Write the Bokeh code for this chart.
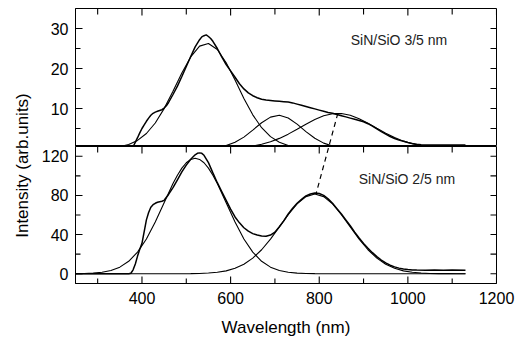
import math
from bokeh.plotting import figure
from bokeh.models import Range1d, LinearAxis, FixedTicker, Label
from bokeh.layouts import row, column
from bokeh.embed import file_html
from bokeh.resources import INLINE

# ---------------- data ----------------
# common sampling grid of the fitted components (nm)
grid = [250, 270, 290, 310, 330, 350, 370, 390, 410, 430, 450, 470, 490, 510, 530,
        550, 570, 590, 610, 630, 650, 670, 690, 710, 730, 750, 770, 790, 810, 830,
        850, 870, 890, 910, 930, 950, 970, 990, 1010, 1030, 1050, 1070, 1090, 1110, 1130]

# --- upper panel: SiN/SiO 3/5 nm ---
top_meas_x = [250, 350, 378, 382, 386, 390, 395, 400, 405, 410, 415, 420, 425, 430, 435,
              440, 445, 450, 455, 460, 470, 480, 490, 500, 510, 520, 530, 535, 540, 545,
              550, 555, 560, 570, 580, 590, 600, 610, 620, 630, 640, 650, 660, 670, 680,
              690, 700, 710, 720, 730, 740, 750, 760, 770, 780, 790, 800, 810, 820, 830,
              840, 850, 860, 870, 880, 890, 900, 910, 920, 930, 940, 950, 960, 970, 980,
              990, 1000, 1010, 1020, 1030, 1040, 1060, 1080, 1100, 1130]
top_meas_y = [0.0, 0.0, 0.3, 0.9, 1.8, 2.7, 3.9, 5.0, 5.9, 6.8, 7.6, 8.3, 8.8, 9.1, 9.3,
              9.5, 9.7, 10.1, 10.7, 11.5, 13.5, 15.6, 18.0, 20.5, 23.0, 25.4, 27.2, 27.9, 28.2, 28.4,
              28.0, 27.5, 26.8, 25.0, 22.9, 21.0, 19.4, 17.8, 16.2, 14.9, 13.9, 13.2, 12.7, 12.3, 12.1,
              12.0, 11.9, 11.8, 11.7, 11.6, 11.4, 11.1, 10.8, 10.5, 10.2, 9.9, 9.6, 9.3, 9.0, 8.8,
              8.5, 8.2, 7.9, 7.6, 7.3, 7.0, 6.7, 6.2, 5.6, 4.9, 4.2, 3.6, 3.0, 2.5, 2.1,
              1.8, 1.5, 1.25, 1.05, 0.95, 0.9, 0.85, 0.9, 0.85, 0.9]
top_fit1 = [0.0, 0.01, 0.03, 0.08, 0.19, 0.46, 1.01, 2.03, 3.75, 6.38, 9.97, 14.3, 18.9, 22.9, 25.6,
            26.25, 24.75, 21.45, 17.1, 12.5, 8.42, 5.2, 2.96, 1.55, 0.74, 0.33, 0.13, 0.05, 0.02, 0.0,
            0.0, 0.0, 0.0, 0.0, 0.0, 0.0, 0.0, 0.0, 0.0, 0.0, 0.0, 0.0, 0.0, 0.0, 0.0]
top_fit2 = [0.0, 0.0, 0.0, 0.0, 0.0, 0.0, 0.0, 0.0, 0.0, 0.0, 0.0, 0.0, 0.0, 0.0, 0.0,
            0.10, 0.29, 0.72, 1.54, 2.85, 4.6, 6.44, 7.84, 8.3, 7.63, 6.09, 4.23, 2.55, 1.34, 0.61,
            0.24, 0.08, 0.03, 0.0, 0.0, 0.0, 0.0, 0.0, 0.0, 0.0, 0.0, 0.0, 0.0, 0.0, 0.0]
top_fit3 = [0.0, 0.0, 0.0, 0.0, 0.0, 0.0, 0.0, 0.0, 0.0, 0.0, 0.0, 0.0, 0.0, 0.0, 0.0,
            0.02, 0.045, 0.09, 0.19, 0.35, 0.63, 1.06, 1.69, 2.53, 3.59, 4.81, 6.08, 7.25, 8.18, 8.71,
            8.76, 8.32, 7.46, 6.33, 5.06, 3.83, 2.73, 1.84, 1.17, 0.70, 0.40, 0.21, 0.11, 0.05, 0.02]

# --- lower panel: SiN/SiO 2/5 nm ---
bot_meas_x = [250, 300, 350, 370, 375, 380, 385, 390, 395, 400, 405, 410, 415, 420, 425,
              430, 435, 440, 445, 450, 460, 470, 480, 490, 500, 510, 520, 525, 530, 535,
              540, 550, 560, 570, 580, 590, 600, 610, 620, 630, 640, 650, 660, 670, 680,
              690, 700, 710, 720, 730, 740, 750, 760, 770, 780, 790, 800, 810, 820, 830,
              840, 850, 860, 870, 880, 890, 900, 910, 920, 930, 940, 950, 960, 970, 980,
              990, 1000, 1010, 1020, 1040, 1060, 1080, 1100, 1130]
bot_meas_y = [0.0, 0.0, 0.0, 0.0, 0.5, 4.0, 10.0, 18.0, 25.0, 31.0, 43.0, 55.0, 62.5, 68.0, 70.5,
              72.0, 73.0, 73.5, 74.0, 75.0, 81.0, 88.0, 96.0, 104.0, 111.0, 117.0, 121.5, 123.0, 123.5, 123.0,
              121.0, 113.5, 103.0, 93.0, 84.0, 75.0, 66.0, 58.0, 52.0, 47.0, 43.5, 41.0, 39.5, 38.5, 38.2,
              39.5, 42.5, 48.0, 54.0, 61.0, 67.0, 72.0, 76.0, 79.5, 81.5, 82.5, 82.0, 80.0, 76.5, 72.0,
              66.5, 61.0, 55.0, 49.0, 42.5, 36.5, 31.0, 26.0, 21.5, 17.5, 14.0, 11.0, 8.7, 7.0, 5.7,
              4.8, 4.2, 3.9, 3.7, 3.6, 3.7, 3.5, 3.7, 3.6]
bot_fit1_x = [250, 270, 290, 310, 330, 350, 370, 390, 410, 430, 450, 470, 480, 490, 500,
              510, 520, 530, 540, 550, 560, 570, 590, 610, 630, 650, 670, 690, 710, 730,
              750, 770, 790, 810, 850, 900, 1000, 1130]
bot_fit1_y = [0.085, 0.24, 0.62, 1.49, 3.3, 6.7, 12.7, 22.1, 35.5, 52.9, 72.6, 92.1, 100.7, 107.9, 113.4,
              116.8, 118.0, 116.8, 113.4, 107.9, 100.7, 92.1, 72.6, 52.9, 35.5, 22.1, 12.7, 6.7, 3.3, 1.49,
              0.62, 0.24, 0.085, 0.03, 0.0, 0.0, 0.0, 0.0]
bot_fit2 = [0.0, 0.0, 0.0, 0.0, 0.0, 0.0, 0.0, 0.0, 0.0, 0.0, 0.0, 0.0, 0.0, 0.12, 0.29,
            0.67, 1.44, 2.9, 5.5, 9.7, 15.9, 24.5, 35.4, 47.8, 60.4, 71.3, 78.8, 81.5, 78.8, 71.3,
            60.4, 47.8, 35.4, 24.5, 15.9, 9.7, 5.5, 2.9, 1.44, 0.67, 0.29, 0.12, 0.05, 0.02, 0.0]

# dashed guide: peak of the long-wavelength band in each panel
guide_top = (842, 8.8)     # (nm, upper-panel units)
guide_bot = (793, 82.0)    # (nm, lower-panel units)

x_ticks = [400, 600, 800, 1000, 1200]
x_minor = [300, 500, 700, 900, 1100]
top_ticks = [10, 20, 30]
top_minor = [5, 15, 25]
bot_ticks = [0, 40, 80, 120]
bot_minor = [20, 60, 100]

# ---------------- layout / style ----------------
FONT = "Liberation Sans"
X0, X1 = 250, 1200
TOP_Y = (0.5, 35)
BOT_Y = (-10, 130)
FRAME_W = 421
FRAME_H_TOP = 138
FRAME_H_BOT = 137
ML, MR = 37, 20
LABEL_W = 38
TOP_B = 8
BOT_B = 55

xr = Range1d(X0, X1)


def style_axis(ax, ticks):
    ax.ticker = FixedTicker(ticks=ticks)
    ax.major_tick_in = 0
    ax.major_tick_out = 0
    ax.minor_tick_in = 0
    ax.minor_tick_out = 0
    ax.axis_line_color = "black"
    ax.major_label_text_font = FONT
    ax.major_label_text_font_size = "16px"
    ax.major_label_text_color = "black"


def inward_ticks(p, yr, frame_h, yt, ym, bottom_edge):
    """Inward tick marks as short segments starting on the frame edges
    (lengths in pixels, converted with the panel's own scale)."""
    kx = (X1 - X0) / FRAME_W
    ky = (yr[1] - yr[0]) / frame_h
    xa, ya, xb, yb = [], [], [], []

    def seg(x0, y0, x1, y1):
        xa.append(x0); ya.append(y0); xb.append(x1); yb.append(y1)

    for v in yt:
        seg(X0, v, X0 + 7 * kx, v)
        seg(X1, v, X1 - 6 * kx, v)
    for v in ym:
        seg(X0, v, X0 + 5 * kx, v)
        seg(X1, v, X1 - 6 * kx, v)
    for t in x_ticks:
        seg(t, yr[1], t, yr[1] - 7 * ky)
    for t in x_minor:
        seg(t, yr[1], t, yr[1] - 6 * ky)
    if bottom_edge:
        for t in x_ticks:
            seg(t, yr[0], t, yr[0] + 7 * ky)
        for t in x_minor:
            seg(t, yr[0], t, yr[0] + 5 * ky)
    p.segment(x0=xa, y0=ya, x1=xb, y1=yb, line_color="black", line_width=1.1)


def panel(yrange, frame_h, bt, bb, yt, ym, bottom_axis):
    p = figure(frame_width=FRAME_W, frame_height=frame_h, x_range=xr,
               y_range=Range1d(*yrange), output_backend="svg", toolbar_location=None,
               x_axis_location=None, y_axis_location=None,
               min_border_left=ML, min_border_right=MR,
               min_border_top=bt, min_border_bottom=bb)
    p.outline_line_color = "black"
    p.outline_line_width = 1
    p.xgrid.visible = False
    p.ygrid.visible = False
    p.background_fill_color = "white"
    p.border_fill_color = "white"

    left = LinearAxis()
    style_axis(left, yt)
    left.major_label_standoff = 7
    p.add_layout(left, "left")

    if bottom_axis:
        b = LinearAxis(axis_label="Wavelength (nm)")
        style_axis(b, x_ticks)
        b.major_label_standoff = 8
        b.axis_label_text_font = FONT
        b.axis_label_text_font_size = "17px"
        b.axis_label_text_font_style = "normal"
        b.axis_label_text_color = "black"
        b.axis_label_standoff = 11
        p.add_layout(b, "below")
    inward_ticks(p, yrange, frame_h, yt, ym, bottom_axis)
    return p


top_p = panel(TOP_Y, FRAME_H_TOP, TOP_B, 0, top_ticks, top_minor, False)
bot_p = panel(BOT_Y, FRAME_H_BOT, 0, BOT_B, bot_ticks, bot_minor, True)

FIT = dict(line_color="black", line_width=1.1)
MEAS = dict(line_color="black", line_width=1.5)

top_p.line(grid, top_fit1, **FIT)
top_p.line(grid, top_fit2, **FIT)
top_p.line(grid, top_fit3, **FIT)
top_p.line(top_meas_x, top_meas_y, **MEAS)

bot_p.line(bot_fit1_x, bot_fit1_y, **FIT)
bot_p.line(grid, bot_fit2, **FIT)
bot_p.line(bot_meas_x, bot_meas_y, **MEAS)


# dashed guide crossing both panels: express each end in the other panel's units
def top_px(v):
    return (TOP_Y[1] - v) * FRAME_H_TOP / (TOP_Y[1] - TOP_Y[0])

def bot_px(v):
    return FRAME_H_TOP + (BOT_Y[1] - v) * FRAME_H_BOT / (BOT_Y[1] - BOT_Y[0])

top_end_in_bot = BOT_Y[1] - (top_px(guide_top[1]) - FRAME_H_TOP) * (BOT_Y[1] - BOT_Y[0]) / FRAME_H_BOT
bot_end_in_top = TOP_Y[1] - bot_px(guide_bot[1]) * (TOP_Y[1] - TOP_Y[0]) / FRAME_H_TOP

DASH = dict(line_color="black", line_width=1.2, line_dash="5 4")
top_p.line([guide_top[0], guide_bot[0]], [guide_top[1], bot_end_in_top], **DASH)
bot_p.line([guide_top[0], guide_bot[0]], [top_end_in_bot, guide_bot[1]], **DASH)

top_p.add_layout(Label(x=871, y=27.2, text="SiN/SiO 3/5 nm", text_font=FONT,
                       text_font_size="14px", text_color="#222222", text_baseline="alphabetic"))
bot_p.add_layout(Label(x=889, y=96.3, text="SiN/SiO 2/5 nm", text_font=FONT,
                       text_font_size="14px", text_color="#222222", text_baseline="alphabetic"))

# shared y-axis title spanning both panels
TOTAL_H = TOP_B + FRAME_H_TOP + FRAME_H_BOT + BOT_B
lab = figure(width=LABEL_W, height=TOTAL_H, x_range=Range1d(0, LABEL_W),
             y_range=Range1d(0, TOTAL_H), output_backend="svg", toolbar_location=None,
             x_axis_location=None, y_axis_location=None, min_border=0)
lab.outline_line_color = None
lab.xgrid.visible = False
lab.ygrid.visible = False
lab.add_layout(Label(x=22, y=TOTAL_H - 165, text="Intensity (arb.units)", angle=math.pi / 2,
                     text_align="center", text_baseline="middle", text_font=FONT,
                     text_font_size="17px", text_color="black"))

layout = row(lab, column(top_p, bot_p, spacing=0), spacing=0)

with open("out.html", "w") as f:
    f.write(file_html(layout, INLINE))
